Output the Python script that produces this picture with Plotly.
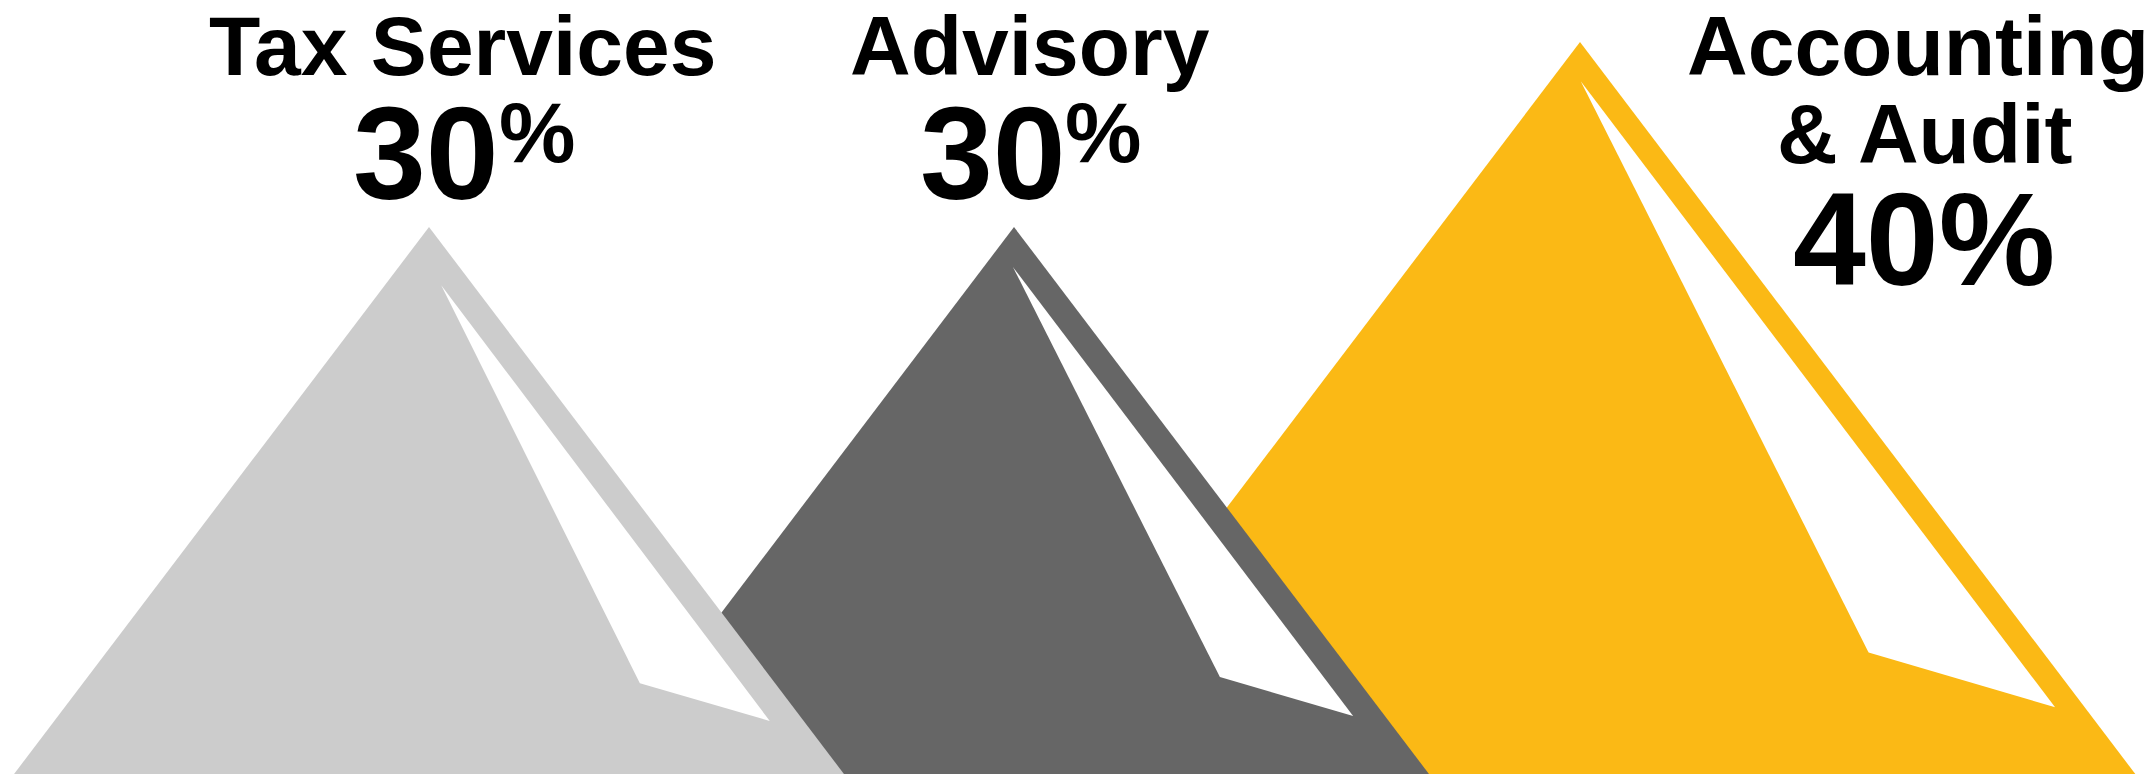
import plotly.graph_objects as go

# ---------------- data ----------------
CATEGORIES = ["Tax Services", "Advisory", "Accounting & Audit"]
SHARES = [30, 30, 40]  # percent
COLORS = ["#CCCCCC", "#666666", "#FBB915"]

# ---------------- layout / style constants ----------------
W, H = 2152, 774
PX_PER_PCT = 18.5          # vertical pixels per percentage point
SLOPE = 0.7586             # triangle half-width / height
PEAK_X = [421, 1006, 1572]  # horizontal position of each peak (px)
# white notch, relative to peak, normalised by triangle height: top, bottom-left, bottom-right
NOTCH = [
    [(0.022, 0.105), (0.380, 0.822), (0.614, 0.890)],
    [(-0.002, 0.072), (0.371, 0.811), (0.611, 0.881)],
    [(0.001, 0.053), (0.390, 0.825), (0.642, 0.899)],
]
FONT = "Liberation Sans, Arial, Helvetica, sans-serif"
TITLE_FS = 84
NUM_FS = 131
PCT_FS = 86
ASC, DESC = 0.905, 0.212

fig = go.Figure()

# draw back to front: last category first so the first ends up on top
for i in reversed(range(len(CATEGORIES))):
    v = SHARES[i]
    hpx = v * PX_PER_PCT
    half = SLOPE * hpx
    px = PEAK_X[i]
    xs = [px - half, px, px + half, px - half]
    ys = [0, v, 0, 0]
    fig.add_trace(go.Scatter(x=xs, y=ys, mode="lines", fill="toself",
                             fillcolor=COLORS[i], line=dict(width=0),
                             hoverinfo="skip", showlegend=False))
    nx, ny = [], []
    for dx, dy in NOTCH[i]:
        nx.append(px + dx * hpx)
        ny.append(v - dy * v)
    nx.append(nx[0]); ny.append(ny[0])
    fig.add_trace(go.Scatter(x=nx, y=ny, mode="lines", fill="toself",
                             fillcolor="#FFFFFF", line=dict(width=0),
                             hoverinfo="skip", showlegend=False))


def ypaper(baseline_px, fs):
    center = baseline_px + (DESC - ASC) / 2 * fs
    return 1 - center / H


def add_text(text, x, baseline, fs, xanchor="center"):
    fig.add_annotation(text=text, x=x, xref="x", y=ypaper(baseline, fs), yref="paper",
                       xanchor=xanchor, yanchor="middle", showarrow=False,
                       borderpad=0,
                       font=dict(family=FONT, size=fs, color="#000000", weight="bold"))


# Tax Services
add_text(CATEGORIES[0], 455, 67, TITLE_FS)
add_text(f"{SHARES[0]}", 492, 191, NUM_FS, "right")
add_text("%", 490, 154, PCT_FS, "left")

# Advisory
add_text(CATEGORIES[1], 1022, 67, TITLE_FS)
add_text(f"{SHARES[1]}", 1059, 191, NUM_FS, "right")
add_text("%", 1056, 154, PCT_FS, "left")

# Accounting & Audit (two lines)
first, second = CATEGORIES[2].split(" & ")
add_text(first, 1910, 67, TITLE_FS)
add_text("& " + second, 1916, 155, TITLE_FS)
add_text(f"{SHARES[2]}%", 1916, 277, NUM_FS)

fig.update_layout(
    width=W, height=H,
    margin=dict(l=0, r=0, t=0, b=0),
    paper_bgcolor="#FFFFFF", plot_bgcolor="#FFFFFF",
    xaxis=dict(range=[0, W], visible=False, fixedrange=True),
    yaxis=dict(range=[0, H / PX_PER_PCT], visible=False, fixedrange=True),
    showlegend=False,
)

fig.write_html("out.html", config={"displayModeBar": False})
